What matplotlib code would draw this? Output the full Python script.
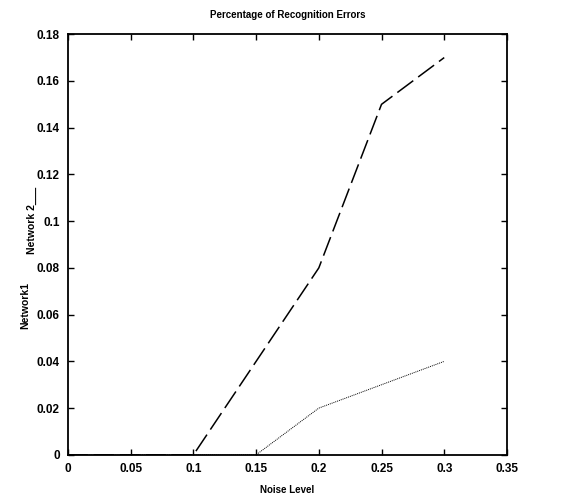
import matplotlib
matplotlib.use('Agg')
import matplotlib.pyplot as plt

# noise levels and error rates
noise = [0, 0.05, 0.1, 0.15, 0.2, 0.25, 0.3]
net1 = [0, 0, 0, 0.04, 0.08, 0.15, 0.17]
net2 = [0, 0, 0, 0, 0.02, 0.03, 0.04]

xticks = [0, 0.05, 0.1, 0.15, 0.2, 0.25, 0.3, 0.35]
xticklabels = ['0', '0.05', '0.1', '0.15', '0.2', '0.25', '0.3', '0.35']
yticks = [0, 0.02, 0.04, 0.06, 0.08, 0.1, 0.12, 0.14, 0.16, 0.18]
yticklabels = ['0', '0.02', '0.04', '0.06', '0.08', '0.1', '0.12', '0.14', '0.16', '0.18']

plt.rcParams['font.family'] = ['Liberation Sans', 'DejaVu Sans']
plt.rcParams['font.weight'] = 'bold'

fig = plt.figure(figsize=(5.62, 4.96), dpi=100)
ax = fig.add_axes([0.121, 0.083, 0.781, 0.848])

ax.plot(noise, net1, color='black', linestyle=(0, (13, 4)), linewidth=1.1)
ax.plot(noise, net2, color='black', linestyle=(0, (1, 1)), linewidth=0.7)

ax.set_xlim(0, 0.35)
ax.set_ylim(0, 0.18)
ax.set_xticks(xticks)
ax.set_xticklabels(xticklabels)
ax.set_yticks(yticks)
ax.set_yticklabels(yticklabels)
ax.tick_params(direction='in', length=4, labelsize=8.5, width=1, pad=6,
               top=True, right=True)
for s in ax.spines.values():
    s.set_linewidth(1.3)

ax.set_title('Percentage of Recognition Errors', fontsize=7, fontweight='bold', pad=12)
ax.set_xlabel('Noise Level', fontsize=7, fontweight='bold', labelpad=7)

fig.text(0.045, 0.385, 'Network1', rotation=90, fontsize=7.5, fontweight='bold',
         ha='center', va='center')
fig.text(0.056, 0.555, 'Network 2___', rotation=90, fontsize=7.5, fontweight='bold',
         ha='center', va='center')

fig.savefig('out.png', dpi=100)
plt.close(fig)
